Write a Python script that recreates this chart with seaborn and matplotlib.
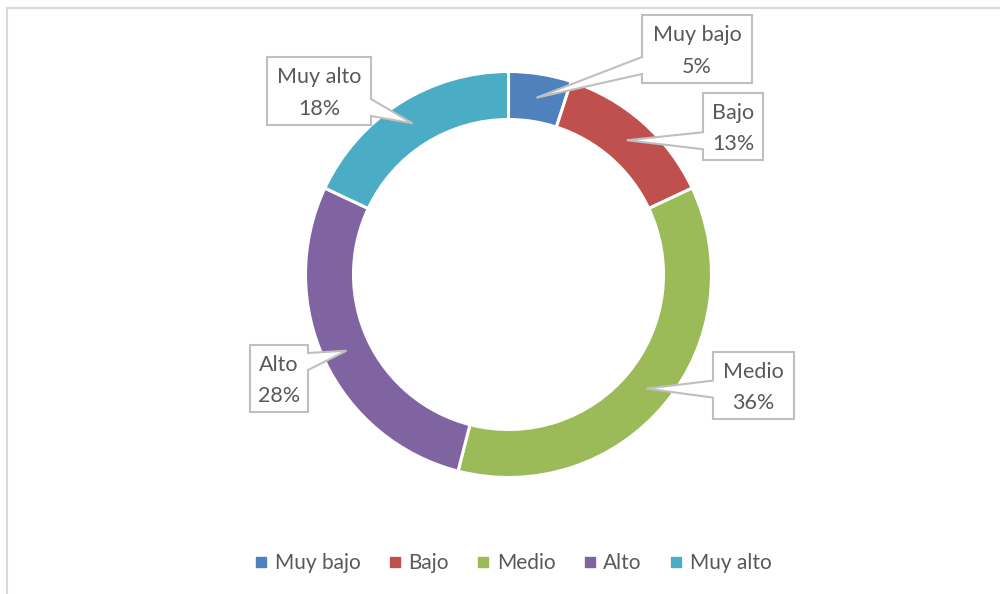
import matplotlib
matplotlib.use("Agg")
import matplotlib.pyplot as plt
from matplotlib.patches import Polygon
from matplotlib.lines import Line2D
import seaborn as sns
import numpy as np

# data
categories = ['Muy bajo', 'Bajo', 'Medio', 'Alto', 'Muy alto']
percent = [5, 13, 36, 28, 18]
colors = ['#4F81BD', '#C0504D', '#9BBB59', '#8064A2', '#4BACC6']

# label box layout (pixel coords, y from top): center x, center y, width, height
box_cx = [697, 733, 753.5, 279, 319]
box_cy = [49, 126.5, 385.5, 378.5, 91]
box_w = [110, 60, 81, 58, 104]
box_h = [68, 67, 67, 67, 68]

sns.set_theme(style="white")
plt.rcParams['font.family'] = ['Lato', 'DejaVu Sans']

W, H = 1000, 594
fig = plt.figure(figsize=(10, 5.94), dpi=100)
ax = fig.add_axes([0, 0, 1, 1])

cx, cy, R, ring = 508.5, 274.5, 203, 48

wedges, _ = ax.pie(percent, colors=colors, radius=R, center=(cx, H - cy),
                   startangle=90, counterclock=False,
                   wedgeprops=dict(width=ring, edgecolor='white', linewidth=2.2))
ax.set_xlim(0, W)
ax.set_ylim(0, H)
ax.set_aspect('equal')
ax.axis('off')

text_color = '#595959'
edge_color = '#BFBFBF'

def flip(pts):
    return [(x, H - y) for x, y in pts]

cum = np.cumsum([0] + percent)
for i, cat in enumerate(categories):
    mid = (cum[i] + cum[i + 1]) / 2 / sum(percent)
    ang = np.deg2rad(90 - 360 * mid)
    rm = R - ring / 2
    axp, ayp = cx + rm * np.cos(ang), cy - rm * np.sin(ang)
    x0 = box_cx[i] - box_w[i] / 2
    x1 = box_cx[i] + box_w[i] / 2
    top = box_cy[i] - box_h[i] / 2
    bot = box_cy[i] + box_h[i] / 2
    b1 = min(max(ayp - 8, top + 8), bot - 26)
    b2 = b1 + 17
    if axp < x0:
        pts = [(x0, top), (x1, top), (x1, bot), (x0, bot), (x0, b2), (axp, ayp), (x0, b1)]
    else:
        pts = [(x0, top), (x1, top), (x1, b1), (axp, ayp), (x1, b2), (x1, bot), (x0, bot)]
    ax.add_patch(Polygon(flip(pts), closed=True, facecolor='white',
                         edgecolor=edge_color, linewidth=1.5, zorder=5))
    ax.text(box_cx[i], H - box_cy[i] - 2, f"{cat}\n{percent[i]}%", ha='center', va='center',
            fontsize=15.5, color=text_color, linespacing=1.7, zorder=6)

# chart border (top and left visible)
ax.add_line(Line2D([7, W], [H - 8, H - 8], color='#D9D9D9', linewidth=1.5))
ax.add_line(Line2D([7, 7], [0, H - 8], color='#D9D9D9', linewidth=1.5))

handles = [Line2D([], [], marker='s', linestyle='', markersize=7, color=c) for c in colors]
fig.legend(handles, categories, loc='center', bbox_to_anchor=(0.511, 1 - 563 / H),
           ncol=5, frameon=False, fontsize=15, labelcolor=text_color,
           handletextpad=0.15, columnspacing=1.15, handlelength=1.0)

fig.savefig('out.png', dpi=100)
